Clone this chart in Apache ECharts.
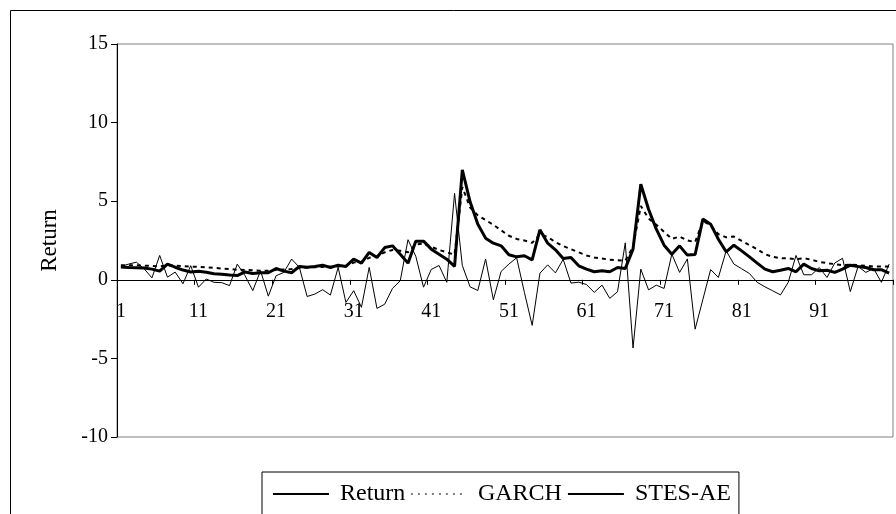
<!DOCTYPE html>
<html>
<head>
<meta charset="utf-8">
<script src="https://cdn.jsdelivr.net/npm/echarts@6/dist/echarts.min.js"></script>
<style>
html,body{margin:0;padding:0;background:#fff;}
#chart{width:896px;height:514px;}
</style>
</head>
<body>
<div id="chart"></div>
<script>
var categories = [];
for (var k = 1; k <= 100; k++) categories.push(String(k));

var returnValues = [0.85,1.0,1.12,0.7,0.12,1.55,0.17,0.49,-0.25,0.9,
-0.47,0.05,-0.16,-0.18,-0.37,1.0,0.26,-0.69,0.58,-1.04,
0.26,0.47,1.32,0.79,-1.06,-0.91,-0.63,-0.97,0.79,-1.44,
-0.69,-1.75,0.79,-1.82,-1.55,-0.55,-0.06,2.55,1.5,-0.47,
0.66,0.91,-0.16,5.5,0.91,-0.45,-0.68,1.32,-1.27,0.53,
1.0,1.4,-0.8,-2.9,0.42,0.95,0.44,1.3,-0.21,-0.15,
-0.3,-0.8,-0.34,-1.18,-0.76,2.35,-4.34,0.68,-0.64,-0.34,
-0.55,1.63,0.47,1.33,-3.14,-1.25,0.65,0.15,1.84,1.0,
0.7,0.4,-0.16,-0.45,-0.7,-0.96,-0.16,1.55,0.32,0.32,
0.78,0.15,1.07,1.37,-0.75,0.85,0.47,0.72,-0.16,1.0];

var garchValues = [0.93,0.92,0.92,0.9,0.88,0.85,0.92,0.9,0.87,0.84,
0.83,0.8,0.76,0.72,0.68,0.64,0.63,0.6,0.58,0.58,
0.62,0.65,0.68,0.75,0.78,0.8,0.82,0.83,0.85,0.88,
1.1,1.15,1.4,1.5,1.75,1.9,1.85,1.75,2.25,2.3,
2.1,1.9,1.75,1.6,5.9,4.6,4.1,3.8,3.5,3.15,
2.8,2.6,2.5,2.35,2.9,2.72,2.4,2.15,1.95,1.75,
1.55,1.42,1.35,1.28,1.25,1.22,2.1,4.7,3.9,3.5,
3.05,2.6,2.75,2.5,2.4,3.75,3.45,2.9,2.7,2.75,
2.48,2.2,1.95,1.63,1.46,1.38,1.36,1.31,1.38,1.27,
1.14,1.06,1.0,0.93,0.97,0.93,0.89,0.85,0.85,0.85];

var stesValues = [0.82,0.78,0.77,0.75,0.68,0.55,1.0,0.8,0.62,0.5,
0.55,0.48,0.38,0.35,0.3,0.27,0.5,0.4,0.45,0.45,
0.72,0.55,0.45,0.85,0.8,0.85,0.93,0.78,0.93,0.85,
1.31,1.06,1.74,1.42,2.05,2.16,1.63,1.06,2.46,2.46,
1.95,1.63,1.31,0.85,7.0,4.96,3.54,2.65,2.33,2.16,
1.59,1.46,1.53,1.27,3.18,2.33,1.91,1.36,1.42,0.89,
0.68,0.51,0.57,0.51,0.78,0.72,1.95,6.08,4.49,3.22,
2.2,1.63,2.16,1.57,1.61,3.86,3.54,2.58,1.78,2.2,
1.84,1.46,1.06,0.68,0.51,0.61,0.72,0.51,1.0,0.72,
0.57,0.61,0.47,0.68,0.93,0.85,0.78,0.64,0.64,0.42];

var yTicks = [-10, -5, 0, 5, 10, 15];
var seriesNames = ['Return', 'GARCH', 'STES-AE'];

var FONT = 'Liberation Serif';
var GRID_TOP = 44, GRID_BOTTOM = 77, H = 514;
var plotH = H - GRID_TOP - GRID_BOTTOM;
var yMin = yTicks[0], yMax = yTicks[yTicks.length - 1];
// move the category axis up to where y = 0 sits
var zeroOffset = -plotH * (0 - yMin) / (yMax - yMin);

var chart = echarts.init(document.getElementById('chart'), null, {renderer: 'canvas'});
chart.setOption({
  animation: false,
  backgroundColor: '#fff',
  textStyle: {fontFamily: FONT, color: '#000'},
  graphic: [{
    type: 'rect',
    shape: {x: 10.5, y: 10.5, width: 900, height: 520},
    style: {fill: 'none', stroke: '#000', lineWidth: 1},
    silent: true
  }],
  grid: {left: 117, top: GRID_TOP, right: 3, bottom: GRID_BOTTOM, show: true, borderColor: '#808080', borderWidth: 1, backgroundColor: 'transparent'},
  legend: {
    data: [
      {name: seriesNames[0]},
      {name: seriesNames[1], lineStyle: {width: 1.2, type: [2, 5]}},
      {name: seriesNames[2]}
    ],
    left: 262, top: 472,
    padding: [10, 8, 14, 10],
    itemWidth: 56, itemHeight: 14, itemGap: 5,
    itemStyle: {opacity: 0, color: 'rgba(0,0,0,0)', borderWidth: 0},
    borderColor: '#000', borderWidth: 1,
    textStyle: {fontFamily: FONT, fontSize: 24, color: '#000', padding: [0, 0, 0, 6]}
  },
  xAxis: {
    type: 'category',
    data: categories,
    boundaryGap: true,
    offset: zeroOffset,
    axisLine: {onZero: false, lineStyle: {color: '#000', width: 1}},
    axisTick: {show: true, interval: 9, length: 5, lineStyle: {color: '#000'}},
    axisLabel: {interval: 9, margin: 22, fontFamily: FONT, fontSize: 20, color: '#000'},
    splitLine: {show: false}
  },
  yAxis: {
    type: 'value',
    min: yMin, max: yMax, interval: 5,
    name: 'Return', nameLocation: 'middle', nameRotate: 90, nameGap: 56,
    nameTextStyle: {fontFamily: FONT, fontSize: 23, color: '#000'},
    axisLine: {show: true, lineStyle: {color: '#000', width: 1}},
    axisTick: {show: true, length: 6, lineStyle: {color: '#000'}},
    axisLabel: {margin: 9, fontFamily: FONT, fontSize: 20, color: '#000'},
    splitLine: {show: false}
  },
  series: [
    {name: seriesNames[0], type: 'line', data: returnValues, symbol: 'none',
     lineStyle: {color: '#000', width: 1}, itemStyle: {color: '#000'}, z: 2},
    {name: seriesNames[1], type: 'line', data: garchValues, symbol: 'none',
     lineStyle: {color: '#000', width: 2, type: [4, 4]}, itemStyle: {color: '#000'}, z: 3},
    {name: seriesNames[2], type: 'line', data: stesValues, symbol: 'none',
     lineStyle: {color: '#000', width: 3}, itemStyle: {color: '#000'}, z: 4}
  ]
});
</script>
</body>
</html>
